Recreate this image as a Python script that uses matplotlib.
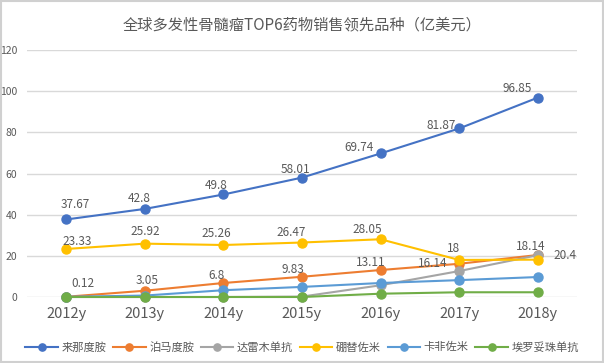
import matplotlib
matplotlib.use("Agg")
import matplotlib.pyplot as plt
from matplotlib.patches import Rectangle
import numpy as np

plt.rcParams['font.family'] = ['Noto Sans CJK SC', 'DejaVu Sans']

years = ["2012y", "2013y", "2014y", "2015y", "2016y", "2017y", "2018y"]
names = ["来那度胺", "泊马度胺", "达雷木单抗", "硼替佐米", "卡非佐米", "埃罗妥珠单抗"]
lenalidomide = [37.67, 42.8, 49.8, 58.01, 69.74, 81.87, 96.85]
pomalidomide = [0.12, 3.05, 6.8, 9.83, 13.11, 16.14, 20.4]
daratumumab = [0, 0, 0, 0.2, 5.7, 12.6, 20.3]
bortezomib = [23.33, 25.92, 25.26, 26.47, 28.05, 18, 18.14]
carfilzomib = [0.1, 0.7, 3.3, 4.9, 6.8, 8.2, 9.7]
elotuzumab = [0, 0, 0, 0, 1.6, 2.3, 2.3]
yticks = [0, 20, 40, 60, 80, 100, 120]
title = "全球多发性骨髓瘤TOP6药物销售领先品种（亿美元）"

series = [lenalidomide, pomalidomide, daratumumab, bortezomib, carfilzomib, elotuzumab]
colors = ["#4472C4", "#ED7D31", "#A5A5A5", "#FFC000", "#5B9BD5", "#70AD47"]
show_labels = [True, True, False, True, False, False]
# label offsets in pixels (dx, dy with dy negative = upward)
offsets = {
    0: [(9, -15), (-6, -10), (-7, -9), (-7, -8), (-22, -6), (-18, -3), (-21, -9)],
    1: [(17, -13), (2, -10), (-7, -8), (-9, -7), (-10, -8), (-26, 0), (27, 0)],
    3: [(11, -7), (0, -12), (-7, -12), (-11, -10), (-13, -10), (-6, -11), (-7, -13)],
}

W, H = 604, 363
fig = plt.figure(figsize=(W / 100, H / 100), dpi=100)
fig.patches.append(Rectangle((0.002, 0.003), 0.996, 0.994, transform=fig.transFigure,
                             fill=False, edgecolor="#D0D0D0", linewidth=1.5))
ax = fig.add_axes([27 / W, 1 - 297 / H, (577 - 27) / W, (297 - 50) / H])

x = np.arange(len(years))
for i, (vals, c) in enumerate(zip(series, colors)):
    ax.plot(x, vals, color=c, linewidth=1.5, marker="o", markersize=6.5,
            markeredgecolor=c, label=names[i], zorder=3 + i * 0.1, clip_on=False)

for i, vals in enumerate(series):
    if not show_labels[i]:
        continue
    for j, v in enumerate(vals):
        dx, dy = offsets[i][j]
        ax.annotate(f"{v:g}", (x[j], v), xytext=(dx * 0.72, -dy * 0.72),
                    textcoords="offset points", ha="center", va="center",
                    fontsize=8.5, color="#595959", zorder=10)

ax.set_xlim(-0.5, len(years) - 0.5)
ax.set_ylim(0, 120)
ax.set_yticks(yticks)
ax.set_xticks(x)
ax.set_xticklabels(years, fontsize=10.5, color="#595959")
ax.set_yticklabels([str(t) for t in yticks], fontsize=7.5, color="#595959")
ax.tick_params(axis="both", length=0)
ax.tick_params(axis="x", pad=7)
ax.tick_params(axis="y", pad=7)
ax.grid(axis="y", color="#D9D9D9", linewidth=1)
ax.set_axisbelow(True)
for s in ax.spines.values():
    s.set_visible(False)

fig.text(0.5, 1 - 25 / H, title, ha="center", va="center", fontsize=11, color="#595959")

leg = fig.legend(loc="center", bbox_to_anchor=(0.5, 1 - 347 / H), ncol=6, frameon=False,
                 fontsize=8.1, handlelength=2.9, handletextpad=0.3, columnspacing=0.6,
                 labelcolor="#595959", markerscale=0.8)

fig.savefig("out.png", dpi=100)
